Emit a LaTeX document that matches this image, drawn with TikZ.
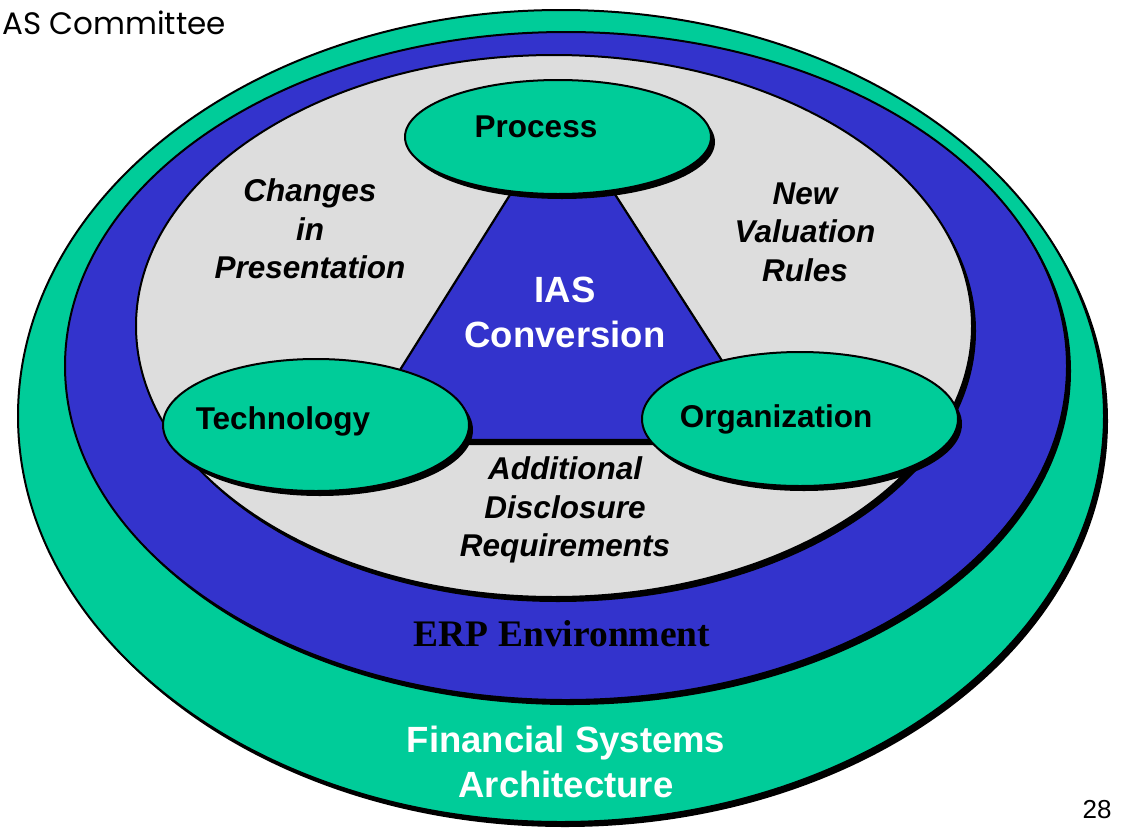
\documentclass[tikz,border=0pt]{standalone}
\usepackage{fontspec}
\setmainfont{Liberation Sans}
\newfontfamily\serifb{Liberation Serif}
\newfontfamily\gothic{Poppins}
\usetikzlibrary{shapes.geometric,shadows}
\definecolor{tgreen}{RGB}{0,204,153}
\definecolor{tblue}{RGB}{51,51,204}
\definecolor{tgray}{RGB}{221,221,221}
\tikzset{
  ring/.style={ellipse, draw=black, line width=2pt, inner sep=0pt,
    drop shadow={shadow xshift=4pt, shadow yshift=-5pt, fill=black, opacity=1}},
  bub/.style={ring, fill=tgreen},
  lbl/.style={font=\bfseries\fontsize{31.5}{38.5}\selectfont, align=center, inner sep=0pt},
  ilbl/.style={font=\bfseries\itshape\fontsize{31.5}{38.5}\selectfont, align=center, inner sep=0pt},
  wlbl/.style={font=\bfseries\fontsize{36.5}{45}\selectfont, align=center, inner sep=0pt, text=white},
}
\begin{document}
\begin{tikzpicture}[x=1pt,y=-1pt]
\useasboundingbox (0,0) rectangle (1124,830);
% rings
\node[ring, fill=tgreen, minimum width=1086pt, minimum height=812pt] (outer) at (561,416) {};
\node[ring, fill=tblue, minimum width=1002pt, minimum height=668pt] (erp) at (566,366) {};
\node[ring, fill=tgray, minimum width=836pt, minimum height=542pt] (inner) at (554,326) {};
% triangle
\coordinate (ta) at (562,112);
\coordinate (tl) at (356,440);
\coordinate (tr) at (773,440);
\fill[black] ([xshift=4pt,yshift=-5pt]ta) -- ([xshift=4pt,yshift=-5pt]tl) -- ([xshift=4pt,yshift=-5pt]tr) -- cycle;
\draw[fill=tblue, line width=2.2pt, line join=round] (ta) -- (tl) -- (tr) -- cycle;
% bubbles
\node[bub, minimum width=306pt, minimum height=114pt] (proc) at (558,137) {};
\node[bub, minimum width=306pt, minimum height=132pt] (tech) at (316,425) {};
\node[bub, minimum width=316pt, minimum height=134pt] (org) at (800,419) {};
% texts
\node[lbl] (tproc) at (536,127) {Process};
\node[lbl] (ttech) at (283,421) {Technology};
\node[lbl] (torg) at (776,419) {Organization};
\node[ilbl] (tchg) at (310,229) {Changes\\in\\Presentation};
\node[ilbl] (tval) at (805,232) {New\\Valuation\\Rules};
\node[ilbl] (tadd) at (565,510) {Additional\\Disclosure\\Requirements};
\node[wlbl] (tias) at (565,312) {IAS\\Conversion};
\node[font=\serifb\bfseries\fontsize{37.5}{43}\selectfont, inner sep=0pt] (terp) at (562,634) {ERP Environment};
\node[wlbl] (tfin) at (566,762) {Financial Systems\\Architecture};
\node[font=\gothic\fontsize{31}{36}\selectfont, anchor=west, inner sep=0pt] (tcom) at (2,23) {AS Committee};
\node[font=\fontsize{26}{30}\selectfont, inner sep=0pt] (tnum) at (1097,810) {28};
\end{tikzpicture}
\end{document}
